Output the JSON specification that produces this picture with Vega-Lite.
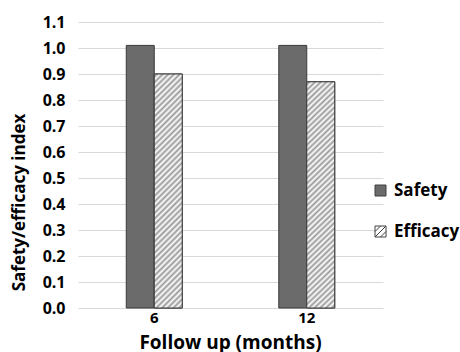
{
  "$schema": "https://vega.github.io/schema/vega-lite/v6.json",
  "autosize": "none",
  "width": 305,
  "height": 286,
  "padding": {"left": 78, "top": 22, "right": 77, "bottom": 44},
  "background": "#ffffff",
  "config": {
    "font": "Open Sans",
    "view": {"stroke": null},
    "axis": {"labelFont": "Open Sans", "titleFont": "Open Sans", "labelFontWeight": "bold", "titleFontWeight": "bold", "labelColor": "#000000", "titleColor": "#000000"}
  },
  "data": {
    "values": [
      {"month": "6", "series": "Safety", "value": 1.01},
      {"month": "6", "series": "Efficacy", "value": 0.90},
      {"month": "12", "series": "Safety", "value": 1.01},
      {"month": "12", "series": "Efficacy", "value": 0.87}
    ]
  },
  "encoding": {
    "x": {
      "field": "month", "type": "nominal", "sort": ["6", "12"],
      "scale": {"paddingInner": 0.633, "paddingOuter": 0.3165},
      "axis": {"labelAngle": 0, "ticks": false, "domain": false, "labelFontSize": 15, "labelPadding": 2,
        "title": "Follow up (months)", "titleFontSize": 19, "titleX": 152, "titleY": 34, "titleBaseline": "middle", "titleAlign": "center"}
    },
    "xOffset": {"field": "series", "type": "nominal", "scale": {"domain": ["Safety", "Efficacy"], "paddingInner": 0, "paddingOuter": 0}},
    "y": {
      "field": "value", "type": "quantitative",
      "scale": {"domain": [0, 1.1], "nice": false},
      "axis": {"values": [0, 0.1, 0.2, 0.3, 0.4, 0.5, 0.6, 0.7, 0.8, 0.9, 1.0, 1.1], "format": ".1f", "ticks": false, "domain": false,
        "grid": true, "gridColor": "#d9d9d9", "gridWidth": 1, "labelFontSize": 16, "labelPadding": 13,
        "title": "Safety/efficacy index", "titleFontSize": 17, "titleX": -59, "titleY": 180, "titleAngle": -90, "titleBaseline": "middle", "titleAlign": "center"}
    }
  },
  "layer": [
    {
      "mark": {"type": "bar", "stroke": "#3a3a3a", "strokeWidth": 1},
      "encoding": {
        "color": {
          "field": "series", "type": "nominal",
          "scale": {"domain": ["Safety", "Efficacy"], "range": ["#6b6b6b", "#ffffff"]},
          "legend": {
            "title": null, "orient": "none", "legendX": 294, "legendY": 160, "padding": 0,
            "symbolType": "square", "symbolSize": 121, "symbolStrokeColor": "#404040", "symbolStrokeWidth": 1, "symbolOpacity": 1,
            "labelFont": "Open Sans", "labelFontSize": 17, "labelFontWeight": "bold", "labelColor": "#000000", "labelOffset": 5, "rowPadding": 23,
            "encode": {
              "symbols": {
                "update": {
                  "stroke": {"value": "#404040"},
                  "strokeWidth": {"value": 1},
                  "shape": [
                    {"test": "datum.label === 'Efficacy'", "value": "M-1,-1H1V1H-1Z M-1,0L0,-1 M-1,1L1,-1 M0,1L1,0"},
                    {"value": "square"}
                  ]
                }
              }
            }
          }
        }
      }
    },
    {
      "transform": [{"filter": "datum.series === 'Efficacy'"}],
      "mark": {
        "type": "bar", "stroke": "#3a3a3a", "strokeWidth": 1,
        "fill": {"gradient": "linear", "x1": 0, "y1": 0, "x2": 0.137, "y2": 1.15, "stops": [
          {"offset": 0, "color": "#ffffff"}, {"offset": 0.0104, "color": "#999999"}, {"offset": 0.0208, "color": "#ffffff"}, {"offset": 0.0313, "color": "#999999"},
          {"offset": 0.0417, "color": "#ffffff"}, {"offset": 0.0521, "color": "#999999"}, {"offset": 0.0625, "color": "#ffffff"}, {"offset": 0.0729, "color": "#999999"},
          {"offset": 0.0833, "color": "#ffffff"}, {"offset": 0.0938, "color": "#999999"}, {"offset": 0.1042, "color": "#ffffff"}, {"offset": 0.1146, "color": "#999999"},
          {"offset": 0.125, "color": "#ffffff"}, {"offset": 0.1354, "color": "#999999"}, {"offset": 0.1458, "color": "#ffffff"}, {"offset": 0.1563, "color": "#999999"},
          {"offset": 0.1667, "color": "#ffffff"}, {"offset": 0.1771, "color": "#999999"}, {"offset": 0.1875, "color": "#ffffff"}, {"offset": 0.1979, "color": "#999999"},
          {"offset": 0.2083, "color": "#ffffff"}, {"offset": 0.2188, "color": "#999999"}, {"offset": 0.2292, "color": "#ffffff"}, {"offset": 0.2396, "color": "#999999"},
          {"offset": 0.25, "color": "#ffffff"}, {"offset": 0.2604, "color": "#999999"}, {"offset": 0.2708, "color": "#ffffff"}, {"offset": 0.2813, "color": "#999999"},
          {"offset": 0.2917, "color": "#ffffff"}, {"offset": 0.3021, "color": "#999999"}, {"offset": 0.3125, "color": "#ffffff"}, {"offset": 0.3229, "color": "#999999"},
          {"offset": 0.3333, "color": "#ffffff"}, {"offset": 0.3438, "color": "#999999"}, {"offset": 0.3542, "color": "#ffffff"}, {"offset": 0.3646, "color": "#999999"},
          {"offset": 0.375, "color": "#ffffff"}, {"offset": 0.3854, "color": "#999999"}, {"offset": 0.3958, "color": "#ffffff"}, {"offset": 0.4063, "color": "#999999"},
          {"offset": 0.4167, "color": "#ffffff"}, {"offset": 0.4271, "color": "#999999"}, {"offset": 0.4375, "color": "#ffffff"}, {"offset": 0.4479, "color": "#999999"},
          {"offset": 0.4583, "color": "#ffffff"}, {"offset": 0.4688, "color": "#999999"}, {"offset": 0.4792, "color": "#ffffff"}, {"offset": 0.4896, "color": "#999999"},
          {"offset": 0.5, "color": "#ffffff"}, {"offset": 0.5104, "color": "#999999"}, {"offset": 0.5208, "color": "#ffffff"}, {"offset": 0.5313, "color": "#999999"},
          {"offset": 0.5417, "color": "#ffffff"}, {"offset": 0.5521, "color": "#999999"}, {"offset": 0.5625, "color": "#ffffff"}, {"offset": 0.5729, "color": "#999999"},
          {"offset": 0.5833, "color": "#ffffff"}, {"offset": 0.5938, "color": "#999999"}, {"offset": 0.6042, "color": "#ffffff"}, {"offset": 0.6146, "color": "#999999"},
          {"offset": 0.625, "color": "#ffffff"}, {"offset": 0.6354, "color": "#999999"}, {"offset": 0.6458, "color": "#ffffff"}, {"offset": 0.6563, "color": "#999999"},
          {"offset": 0.6667, "color": "#ffffff"}, {"offset": 0.6771, "color": "#999999"}, {"offset": 0.6875, "color": "#ffffff"}, {"offset": 0.6979, "color": "#999999"},
          {"offset": 0.7083, "color": "#ffffff"}, {"offset": 0.7188, "color": "#999999"}, {"offset": 0.7292, "color": "#ffffff"}, {"offset": 0.7396, "color": "#999999"},
          {"offset": 0.75, "color": "#ffffff"}, {"offset": 0.7604, "color": "#999999"}, {"offset": 0.7708, "color": "#ffffff"}, {"offset": 0.7813, "color": "#999999"},
          {"offset": 0.7917, "color": "#ffffff"}, {"offset": 0.8021, "color": "#999999"}, {"offset": 0.8125, "color": "#ffffff"}, {"offset": 0.8229, "color": "#999999"},
          {"offset": 0.8333, "color": "#ffffff"}, {"offset": 0.8438, "color": "#999999"}, {"offset": 0.8542, "color": "#ffffff"}, {"offset": 0.8646, "color": "#999999"},
          {"offset": 0.875, "color": "#ffffff"}, {"offset": 0.8854, "color": "#999999"}, {"offset": 0.8958, "color": "#ffffff"}, {"offset": 0.9063, "color": "#999999"},
          {"offset": 0.9167, "color": "#ffffff"}, {"offset": 0.9271, "color": "#999999"}, {"offset": 0.9375, "color": "#ffffff"}, {"offset": 0.9479, "color": "#999999"},
          {"offset": 0.9583, "color": "#ffffff"}, {"offset": 0.9688, "color": "#999999"}, {"offset": 0.9792, "color": "#ffffff"}, {"offset": 0.9896, "color": "#999999"},
          {"offset": 1, "color": "#ffffff"}
        ]}
      }
    }
  ]
}
